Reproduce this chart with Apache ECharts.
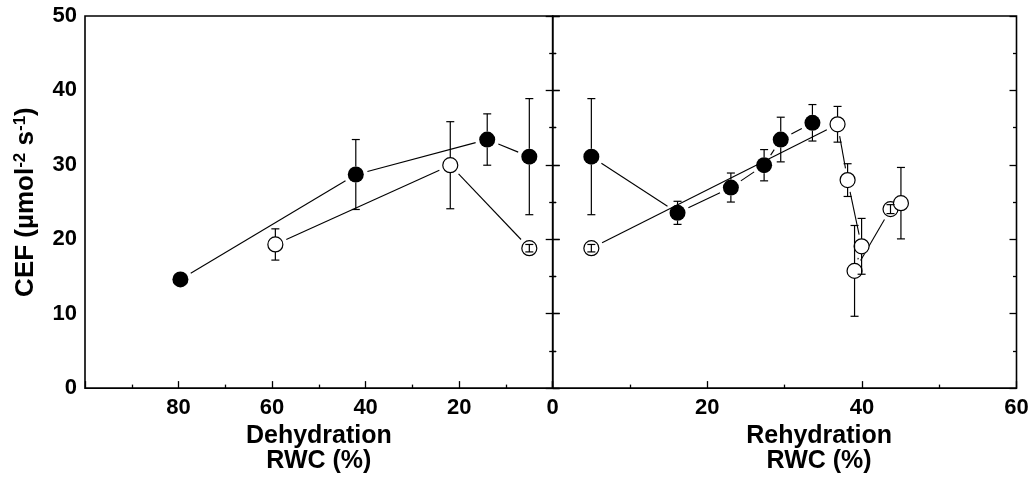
<!DOCTYPE html>
<html><head><meta charset="utf-8">
<script src="https://cdn.jsdelivr.net/npm/echarts@6/dist/echarts.min.js"></script>
<style>html,body{margin:0;padding:0;background:#fff}#c{width:1032px;height:479px}</style>
</head><body><div id="c"></div>
<script>
// ---- Dehydration panel ----
const dehyFilledRWC = [79.6, 42.1, 14.0, 5.0];
const dehyFilledCEF = [14.6, 28.7, 33.4, 31.1];
const dehyFilledSE  = [0.5, 4.7, 3.45, 7.8];
const dehyOpenRWC = [59.3, 21.9, 5.0];
const dehyOpenCEF = [19.3, 29.95, 18.8];
const dehyOpenSE  = [2.1, 5.85, 0.5];
// ---- Rehydration panel ----
const rehyFilledRWC = [5.0, 16.15, 23.05, 27.35, 29.5, 33.6];
const rehyFilledCEF = [31.1, 23.55, 26.95, 29.95, 33.4, 35.65];
const rehyFilledSE  = [7.8, 1.55, 1.95, 2.1, 3.0, 2.45];
const rehyOpenRWC = [5.0, 36.85, 38.15, 39.96, 39.05, 43.7, 45.05];
const rehyOpenCEF = [18.8, 35.45, 27.95, 19.05, 15.75, 24.05, 24.85];
const rehyOpenSE  = [0.5, 2.4, 2.2, 3.75, 6.1, 0.6, 4.8];
// ---- tick labels ----
const dehyTickLabels = [20, 40, 60, 80];
const rehyTickLabels = [0, 20, 40, 60];
const cefTickLabels = [0, 10, 20, 30, 40, 50];

const FF = '"Liberation Sans", Arial, Helvetica, sans-serif';
const R_FILLED = 8, R_OPEN = 7.5, GAP = 12;

function segSeries(xs, ys, ai) {
  const data = xs.slice(1).map((x, i) => [xs[i], ys[i], x, ys[i + 1]]);
  return {
    type: 'custom', xAxisIndex: ai, yAxisIndex: ai === 0 ? 0 : 2, z: 1,
    encode: { x: [0, 2], y: [1, 3] }, data,
    renderItem: function (params, api) {
      const a = api.coord([api.value(0), api.value(1)]);
      const b = api.coord([api.value(2), api.value(3)]);
      const dx = b[0] - a[0], dy = b[1] - a[1], L = Math.hypot(dx, dy);
      if (L <= 2 * GAP) return { type: 'group', children: [] };
      const ux = dx / L, uy = dy / L;
      return { type: 'line', shape: { x1: a[0] + ux * GAP, y1: a[1] + uy * GAP, x2: b[0] - ux * GAP, y2: b[1] - uy * GAP },
        style: { stroke: '#000', lineWidth: 1.1 } };
    }
  };
}
function errSeries(xs, ys, se, ai, r) {
  const data = xs.map((x, i) => [x, ys[i], se[i]]);
  return {
    type: 'custom', xAxisIndex: ai, yAxisIndex: ai === 0 ? 0 : 2, z: 4,
    encode: { x: 0, y: 1 }, data,
    renderItem: function (params, api) {
      const x = api.value(0), y = api.value(1), e = api.value(2);
      const p = api.coord([x, y]), t = api.coord([x, y + e]), b = api.coord([x, y - e]);
      const st = { stroke: '#000', lineWidth: 1.2 };
      const ch = [];
      const d = p[1] - t[1];
      if (d > r) {
        ch.push({ type: 'line', shape: { x1: p[0], y1: p[1] - r, x2: p[0], y2: t[1] }, style: st });
        ch.push({ type: 'line', shape: { x1: p[0], y1: p[1] + r, x2: p[0], y2: b[1] }, style: st });
      } else {
        ch.push({ type: 'line', shape: { x1: p[0], y1: t[1], x2: p[0], y2: b[1] }, style: st });
      }
      ch.push({ type: 'line', shape: { x1: p[0] - 4, y1: t[1], x2: p[0] + 4, y2: t[1] }, style: st });
      ch.push({ type: 'line', shape: { x1: p[0] - 4, y1: b[1], x2: p[0] + 4, y2: b[1] }, style: st });
      return { type: 'group', children: ch };
    }
  };
}
function markSeries(xs, ys, ai, filled) {
  return {
    type: 'scatter', xAxisIndex: ai, yAxisIndex: ai === 0 ? 0 : 2, z: 3,
    symbol: 'circle', symbolSize: filled ? 2 * R_FILLED : 2 * R_OPEN,
    itemStyle: filled ? { color: '#000', opacity: 1 } : { color: '#fff', borderColor: '#000', borderWidth: 1.2, opacity: 1 },
    data: xs.map((x, i) => [x, ys[i]]), silent: true
  };
}

const tickCommon = { show: true, inside: true, length: 7, lineStyle: { color: '#000', width: 1.3 } };
const minorCommon = { show: true, splitNumber: 2, length: 3.5, lineStyle: { color: '#000', width: 1.3 } };
const labelStyle = { color: '#000', fontSize: 22, fontWeight: 'bold', fontFamily: FF };
const nameStyle = { color: '#000', fontSize: 25, fontWeight: 'bold', fontFamily: FF, lineHeight: 25 };

function yAx(gi, pos, labels) {
  return {
    type: 'value', gridIndex: gi, position: pos, min: 0, max: 50, interval: 10,
    axisLine: { show: false }, splitLine: { show: false },
    axisTick: tickCommon, minorTick: minorCommon,
    axisLabel: labels ? Object.assign({ margin: 8, formatter: v => cefTickLabels.includes(v) ? String(v) : '' }, labelStyle) : { show: false }
  };
}

const option = {
  animation: false,
  backgroundColor: '#fff',
  grid: [
    { left: 85, top: 16, width: 467.7, height: 374.7, show: true, borderColor: '#000', borderWidth: 1.6, backgroundColor: 'transparent' },
    { left: 552.7, top: 16, width: 463.8, height: 374.7, show: true, borderColor: '#000', borderWidth: 1.6, backgroundColor: 'transparent' }
  ],
  xAxis: [
    {
      type: 'value', gridIndex: 0, inverse: true, min: 0, max: 100, interval: 20,
      axisLine: { show: false }, splitLine: { show: false },
      axisTick: tickCommon, minorTick: minorCommon,
      axisLabel: Object.assign({ margin: 9, showMinLabel: true, showMaxLabel: true, formatter: v => dehyTickLabels.includes(v) ? String(v) : '' }, labelStyle),
      name: 'Dehydration\nRWC (%)', nameLocation: 'middle', nameGap: 32, nameTextStyle: nameStyle
    },
    {
      type: 'value', gridIndex: 1, min: 0, max: 60, interval: 20,
      axisLine: { show: false }, splitLine: { show: false },
      axisTick: tickCommon, minorTick: minorCommon,
      axisLabel: Object.assign({ margin: 9, showMinLabel: true, showMaxLabel: true, formatter: v => rehyTickLabels.includes(v) ? String(v) : '' }, labelStyle),
      name: 'Rehydration\nRWC (%)', nameLocation: 'middle', nameGap: 32,
      nameTextStyle: Object.assign({ padding: [0, 0, 0, 69] }, nameStyle)
    }
  ],
  yAxis: [
    Object.assign(yAx(0, 'left', true), {
      name: '{b|CEF (µmol}{s|-2}{b| s}{s|-1}{b|)}', nameLocation: 'middle', nameGap: 46,
      nameTextStyle: {
        rich: {
          b: { color: '#000', fontSize: 26, fontWeight: 'bold', fontFamily: FF, lineHeight: 27 },
          s: { color: '#000', fontSize: 17, fontWeight: 'bold', fontFamily: FF, lineHeight: 17, verticalAlign: 'top' }
        }
      }
    }),
    yAx(0, 'right', false),
    yAx(1, 'left', false),
    yAx(1, 'right', false)
  ],
  series: [
    segSeries(dehyFilledRWC, dehyFilledCEF, 0),
    segSeries(dehyOpenRWC, dehyOpenCEF, 0),
    segSeries(rehyFilledRWC, rehyFilledCEF, 1),
    segSeries(rehyOpenRWC, rehyOpenCEF, 1),
    markSeries(dehyFilledRWC, dehyFilledCEF, 0, true),
    markSeries(dehyOpenRWC, dehyOpenCEF, 0, false),
    markSeries(rehyFilledRWC, rehyFilledCEF, 1, true),
    markSeries(rehyOpenRWC, rehyOpenCEF, 1, false),
    errSeries(dehyFilledRWC, dehyFilledCEF, dehyFilledSE, 0, R_FILLED),
    errSeries(dehyOpenRWC, dehyOpenCEF, dehyOpenSE, 0, R_OPEN),
    errSeries(rehyFilledRWC, rehyFilledCEF, rehyFilledSE, 1, R_FILLED),
    errSeries(rehyOpenRWC, rehyOpenCEF, rehyOpenSE, 1, R_OPEN)
  ]
};
const chart = echarts.init(document.getElementById('c'), null, { renderer: 'canvas' });
chart.setOption(option);
</script></body></html>
